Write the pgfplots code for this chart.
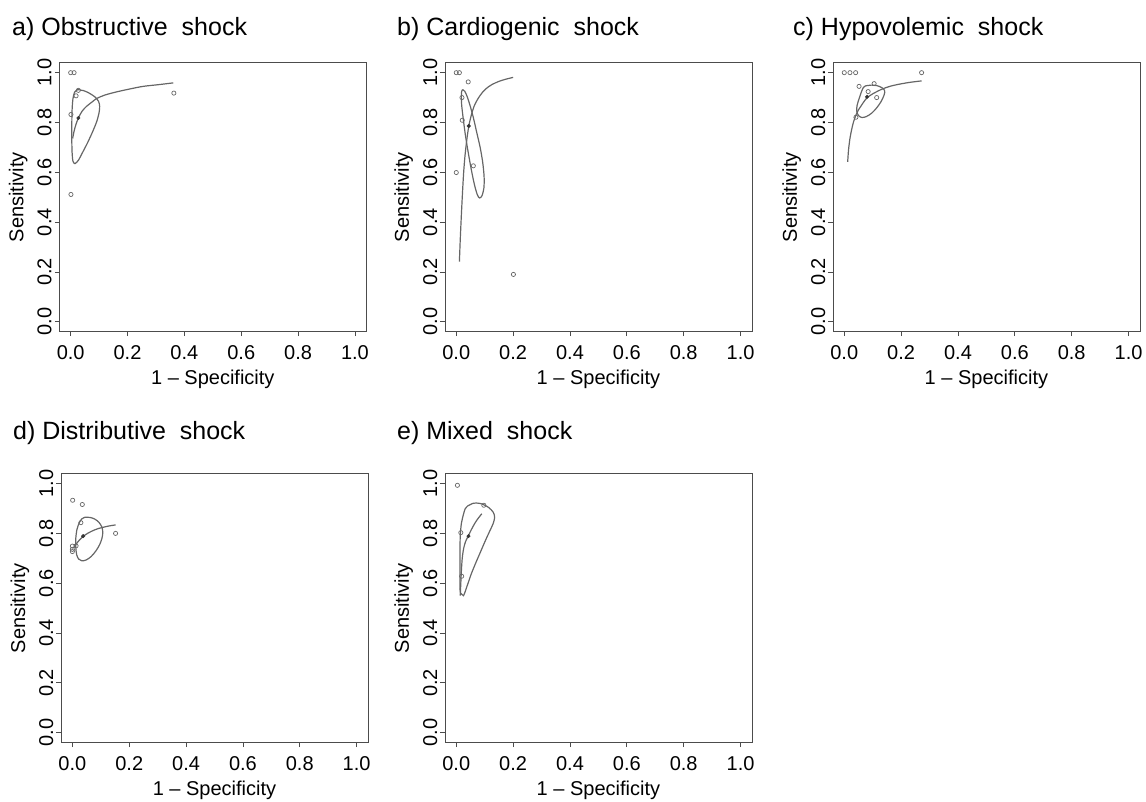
\documentclass[border=0pt]{standalone}
\usepackage{fontspec}
\setmainfont{Liberation Sans}
\usepackage{pgfplots}
\pgfplotsset{compat=1.18}

\definecolor{boxgray}{gray}{0.30}
\definecolor{curvegray}{gray}{0.40}
\definecolor{ptgray}{gray}{0.40}

\pgfplotsset{
  roc/.style={
    scale only axis, width=307pt, height=269pt,
    xmin=-0.04, xmax=1.04, ymin=-0.04, ymax=1.04,
    xtick={0,0.2,0.4,0.6,0.8,1}, ytick={0,0.2,0.4,0.6,0.8,1},
    tick pos=left, tick align=outside, major tick length=4.5pt,
    axis line style={boxgray, line width=0.8pt},
    every tick/.style={boxgray, line width=0.8pt},
    /pgf/number format/.cd, fixed, fixed zerofill, precision=1, assume math mode=true,
    /pgfplots/.cd,
    tick label style={font=\fontsize{20}{24}\selectfont},
    xticklabel style={yshift=-6pt},
    yticklabel style={rotate=90, anchor=south, inner sep=3pt},
    label style={font=\fontsize{20}{24}\selectfont},
    xlabel={1 -- Specificity}, ylabel={Sensitivity},
    xlabel style={at={(axis description cs:0.5,-0.197)}, anchor=base},
    ylabel style={at={(axis description cs:-0.117,0.5)}, anchor=base},
    clip=false,
  },
  study/.style={only marks, mark=o, mark size=2.1pt, ptgray, mark options={line width=0.7pt}},
  summ/.style={only marks, mark=*, mark size=1.8pt, black!80},
  sroc/.style={no marks, curvegray, line width=1.2pt, smooth},
  region/.style={no marks, curvegray, line width=1.2pt, smooth},
}

\begin{document}
\begin{tikzpicture}
\useasboundingbox (0,-801pt) rectangle (1146pt,0);
\tikzset{ttl/.style={anchor=base west, inner sep=0pt, font=\fontsize{25}{29}\selectfont}}
\node[ttl] at (12pt,-35pt) {a) Obstructive\hspace{7pt} shock};
\node[ttl] at (397pt,-35pt) {b) Cardiogenic\hspace{7pt} shock};
\node[ttl] at (793pt,-35pt) {c) Hypovolemic\hspace{7pt} shock};
\node[ttl] at (13pt,-439pt) {d) Distributive\hspace{7pt} shock};
\node[ttl] at (397pt,-439pt) {e) Mixed\hspace{7pt} shock};

% a) Obstructive
\begin{axis}[roc, at={(59.3pt,-331.7pt)}, anchor=south west]
\addplot[sroc] coordinates {(0.007,0.736) (0.012,0.765) (0.018,0.790) (0.027,0.818) (0.040,0.845) (0.056,0.865) (0.075,0.882) (0.091,0.896) (0.12,0.910) (0.162,0.923) (0.21,0.935) (0.255,0.945) (0.31,0.952) (0.361,0.959)};
\addplot[region] coordinates {(0.025,0.932) (0.045,0.928) (0.065,0.918) (0.085,0.903) (0.098,0.885) (0.102,0.865) (0.100,0.84) (0.092,0.805) (0.078,0.765) (0.060,0.720) (0.042,0.680) (0.027,0.648) (0.015,0.635) (0.008,0.645) (0.005,0.68) (0.004,0.73) (0.004,0.79) (0.005,0.85) (0.008,0.895) (0.014,0.922) (0.025,0.932)};
\addplot[study] coordinates {(0.0,1.0) (0.012,1.0) (0.027,0.929) (0.019,0.907) (0.001,0.832) (0.363,0.918) (0.001,0.511)};
\addplot[summ] coordinates {(0.027,0.818)};
\end{axis}

% b) Cardiogenic
\begin{axis}[roc, at={(444.9pt,-331.7pt)}, anchor=south west]
\addplot[sroc] coordinates {(0.011,0.241) (0.014,0.33) (0.018,0.43) (0.022,0.52) (0.026,0.60) (0.031,0.67) (0.037,0.73) (0.044,0.785) (0.053,0.83) (0.063,0.866) (0.075,0.893) (0.09,0.918) (0.105,0.936) (0.125,0.952) (0.15,0.965) (0.175,0.974) (0.2,0.981)};
\addplot[region] coordinates {(0.022,0.932) (0.030,0.925) (0.038,0.905) (0.048,0.87) (0.060,0.82) (0.072,0.76) (0.084,0.70) (0.093,0.64) (0.098,0.58) (0.097,0.535) (0.090,0.505) (0.082,0.497) (0.074,0.51) (0.064,0.55) (0.053,0.61) (0.042,0.68) (0.032,0.75) (0.024,0.82) (0.019,0.87) (0.018,0.905) (0.019,0.925) (0.022,0.932)};
\addplot[study] coordinates {(0.0,1.0) (0.011,1.0) (0.042,0.963) (0.020,0.900) (0.021,0.809) (0.060,0.626) (0.0,0.599) (0.201,0.19)};
\addplot[summ] coordinates {(0.044,0.786)};
\end{axis}

% c) Hypovolemic
\begin{axis}[roc, at={(832.9pt,-331.7pt)}, anchor=south west]
\addplot[sroc] coordinates {(0.012,0.642) (0.015,0.69) (0.02,0.736) (0.026,0.772) (0.032,0.80) (0.04,0.827) (0.049,0.849) (0.06,0.868) (0.07,0.885) (0.081,0.900) (0.1,0.915) (0.131,0.933) (0.16,0.945) (0.19,0.953) (0.23,0.961) (0.272,0.967)};
\addplot[region] coordinates {(0.075,0.947) (0.095,0.95) (0.115,0.948) (0.132,0.94) (0.142,0.928) (0.14,0.91) (0.13,0.885) (0.115,0.86) (0.097,0.838) (0.078,0.824) (0.062,0.82) (0.05,0.828) (0.044,0.845) (0.045,0.868) (0.052,0.895) (0.06,0.922) (0.067,0.94) (0.075,0.947)};
\addplot[study] coordinates {(0.0,1.0) (0.02,1.0) (0.04,1.0) (0.272,1.0) (0.052,0.945) (0.105,0.956) (0.084,0.924) (0.114,0.900) (0.041,0.821)};
\addplot[summ] coordinates {(0.080,0.903)};
\end{axis}

% d) Distributive
\begin{axis}[roc, at={(61pt,-742.6pt)}, anchor=south west]
\addplot[sroc] coordinates {(0.004,0.742) (0.01,0.752) (0.018,0.764) (0.028,0.777) (0.039,0.789) (0.055,0.801) (0.074,0.812) (0.09,0.819) (0.11,0.825) (0.13,0.83) (0.152,0.834)};
\addplot[region] coordinates {(0.045,0.865) (0.062,0.864) (0.078,0.858) (0.093,0.845) (0.104,0.825) (0.107,0.803) (0.104,0.78) (0.096,0.755) (0.083,0.73) (0.066,0.707) (0.048,0.693) (0.033,0.69) (0.022,0.697) (0.015,0.715) (0.012,0.745) (0.012,0.78) (0.016,0.815) (0.024,0.842) (0.033,0.858) (0.045,0.865)};
\addplot[study] coordinates {(0.001,0.933) (0.035,0.916) (0.03,0.843) (0.152,0.80) (0.0,0.749) (0.013,0.750) (0.0,0.736) (0.0,0.727)};
\addplot[summ] coordinates {(0.038,0.789)};
\end{axis}

% e) Mixed
\begin{axis}[roc, at={(444.9pt,-742.6pt)}, anchor=south west]
\addplot[sroc] coordinates {(0.014,0.55) (0.016,0.6) (0.018,0.65) (0.021,0.70) (0.026,0.74) (0.033,0.768) (0.042,0.789) (0.053,0.815) (0.066,0.842) (0.078,0.862) (0.09,0.879)};
\addplot[region] coordinates {(0.04,0.91) (0.06,0.921) (0.08,0.921) (0.097,0.915) (0.115,0.903) (0.13,0.885) (0.135,0.865) (0.13,0.84) (0.118,0.81) (0.102,0.77) (0.085,0.725) (0.068,0.68) (0.052,0.635) (0.04,0.595) (0.03,0.562) (0.025,0.55) (0.02,0.555) (0.015,0.56) (0.013,0.58) (0.013,0.64) (0.013,0.72) (0.014,0.79) (0.018,0.84) (0.025,0.875) (0.031,0.898) (0.04,0.91)};
\addplot[study] coordinates {(0.004,0.993) (0.097,0.913) (0.016,0.803) (0.019,0.628)};
\addplot[summ] coordinates {(0.043,0.789)};
\end{axis}
\end{tikzpicture}
\end{document}
